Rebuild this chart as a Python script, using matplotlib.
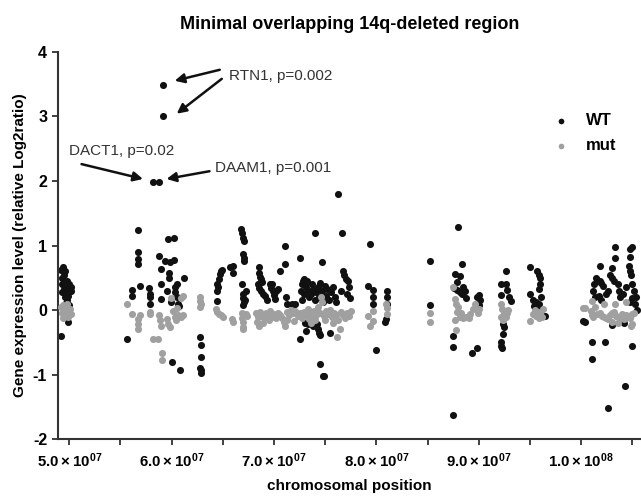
import matplotlib
matplotlib.use("Agg")
import matplotlib.pyplot as plt
from matplotlib.ticker import FuncFormatter, MultipleLocator
import numpy as np

plt.rcParams['font.family'] = ['Liberation Sans', 'DejaVu Sans']
plt.rcParams['mathtext.fontset'] = 'custom'
plt.rcParams['mathtext.rm'] = 'Liberation Sans'
plt.rcParams['mathtext.bf'] = 'Liberation Sans:bold'
plt.rcParams['mathtext.default'] = 'bf'
plt.rcParams['axes.unicode_minus'] = False

# chromosomal position in Mb, relative Log2ratio
wt_pos = [
    # ~49-50 Mb
    49.2, 49.25, 49.3, 49.3, 49.4, 49.45, 49.5, 49.5, 49.55, 49.6, 49.65, 49.7,
    49.75, 49.8, 49.85, 49.9, 50.0, 50.05, 50.15, 50.2, 49.16, 49.84, 49.6, 49.95,
    # ~55-61 Mb
    55.6, 56.1, 56.1, 56.7, 56.7, 56.72, 56.7, 56.9, 57.8, 57.85, 57.9, 57.9,
    58.14, 58.73, 59.12, 59.12, 58.8, 59.0, 59.0, 58.95, 59.35, 59.6, 59.7, 59.72,
    59.8, 60.25, 60.2, 60.5, 60.3, 60.35, 61.2, 60.65, 60.7, 60.0, 60.8, 60.55,
    59.5, 59.9,
    # ~63 Mb
    62.8, 62.85, 62.85, 62.8, 62.85, 62.9,
    # ~64-67 Mb
    64.4, 64.4, 64.45, 64.5, 64.6, 64.7, 64.8, 64.95, 65.7, 66.0, 66.0, 66.8,
    66.85, 67.0, 67.1, 67.0, 67.05, 67.1, 66.9, 66.95, 67.0, 67.1, 67.0, 67.3, 67.2,
    # ~68-77 Mb
    68.4, 68.5, 68.55, 68.6, 68.7, 68.8, 68.5, 68.7, 68.9, 69.1, 69.3, 69.6,
    69.7, 69.8, 69.9, 70.0, 70.1, 70.2, 70.4, 70.6, 71.1, 71.1, 71.2, 71.3,
    71.8, 72.1, 72.5, 72.5, 72.6, 72.7, 72.8, 72.9, 73.0, 73.1, 73.2, 73.3,
    73.4, 72.7, 72.9, 73.1, 73.0, 73.3, 73.6, 73.7, 73.8, 74.0, 74.0, 74.1,
    74.3, 74.4, 74.5, 74.65, 74.7, 74.8, 75.0, 75.1, 75.2, 75.4, 75.6, 75.8,
    76.0, 76.1, 76.3, 76.6, 76.7, 76.8, 77.0, 77.2, 77.3, 77.1, 77.4, 76.5,
    74.3, 74.4, 74.5, 75.5, 74.45, 74.75, 74.9, 74.2, 73.8,
    # ~79-81 Mb
    79.2, 79.4, 79.7, 79.7, 79.7, 80.0, 81.0, 81.0, 81.0, 80.9, 80.85,
    # ~85 Mb
    85.2, 85.2,
    # ~87-90 Mb
    88.0, 88.4, 87.7, 88.2, 87.9, 87.6, 87.9, 88.2, 88.5, 88.4, 88.7, 89.8,
    90.0, 90.1, 90.0, 87.5, 87.5, 87.5, 89.3, 89.8, 88.8,
    # ~92-93 Mb
    92.2, 92.7, 92.8, 93.0, 92.2, 92.7, 92.4, 92.45, 92.4, 92.2, 92.2, 92.25, 93.2,
    # ~95-96 Mb
    95.0, 95.7, 95.9, 96.0, 96.0, 95.9, 95.0, 95.3, 95.6, 95.9, 95.7, 95.4, 96.5, 96.1,
    # ~100-105 Mb
    100.2, 100.4, 101.1, 102.3, 101.1, 102.6, 104.3, 105.0, 103.0, 104.2, 101.3, 101.5,
    101.6, 101.8, 101.9, 102.1, 101.8, 101.2, 101.4, 101.7, 101.9, 102.8, 103.0, 103.2,
    103.0, 103.3, 103.3, 103.6, 103.7, 103.8, 104.7, 104.8, 105.0, 104.8, 104.75, 104.9,
    105.0, 105.2, 105.0, 104.8, 105.3, 102.4, 102.6, 104.4, 104.1, 105.4, 105.5,
]
wt_val = [
    0.62, 0.5, 0.4, 0.28, 0.66, 0.55, 0.45, 0.33, 0.2, 0.6, 0.38, 0.27,
    0.15, 0.45, 0.3, 0.22, 0.4, 0.3, 0.36, 0.3, -0.40, -0.19, 0.1, 0.08,
    -0.45, 0.31, 0.22, 1.24, 0.9, 0.79, 0.71, 0.37, 0.34, 0.25, 0.2, 0.09,
    1.99, 1.99, 3.49, 3.0, 0.83, 0.63, 0.4, 0.17, 0.76, 1.1, 0.58, 0.5,
    0.74, 1.12, 0.78, 0.4, 0.28, 0.35, 0.5, 0.1, 0.06, -0.81, -0.93, 0.2,
    0.3, 0.12,
    -0.41, -0.54, -0.73, -0.89, -0.92, -0.97,
    0.14, 0.3, 0.4, 0.35, 0.48, 0.56, 0.61, 0.62, 0.66, 0.58, 0.69, 1.25,
    1.2, 1.12, 1.07, 0.87, 0.81, 0.76, 0.4, 0.25, 0.18, 0.12, 0.08, 0.3, 0.15,
    0.4, 0.66, 0.58, 0.52, 0.48, 0.43, 0.34, 0.29, 0.25, 0.22, 0.15, 0.4,
    0.34, 0.4, 0.29, 0.24, 0.17, 0.3, 0.33, 0.61, 0.72, 1.0, 0.2, 0.09,
    0.09, 0.09, 0.8, -0.45, 0.3, 0.4, 0.45, 0.48, 0.42, 0.35, 0.45, 0.3,
    0.2, 0.15, 0.25, -0.32, -0.2, -0.22, 0.25, 0.4, 0.32, 0.15, 1.2, 0.28,
    0.35, 0.2, 0.42, 0.75, 0.3, 0.12, 0.38, 0.22, 0.32, 0.15, 0.28, 0.35,
    0.2, 0.12, 1.8, 1.19, 0.6, 0.55, 0.48, 0.45, 0.35, 0.25, 0.18, 0.3,
    -0.3, -0.35, -0.38, -0.36, -0.83, -1.02, -1.02, -0.22, -0.25,
    0.38, 1.03, 0.31, 0.2, 0.09, -0.62, 0.3, 0.2, 0.09, -0.14, -0.19,
    0.76, 0.08,
    1.28, 0.71, 0.56, 0.53, 0.43, 0.34, 0.31, 0.28, 0.36, 0.25, 0.3, 0.2,
    0.23, 0.15, 0.08, -0.4, -0.57, -1.63, -0.66, -0.59, 0.18,
    0.4, 0.4, 0.31, 0.2, 0.23, 0.6, -0.21, -0.26, -0.37, -0.5, -0.55, -0.58, 0.14,
    0.67, 0.6, 0.55, 0.5, 0.4, 0.33, 0.25, 0.15, 0.12, 0.1, 0.05, 0.07, -0.09, 0.2,
    -0.17, -0.18, -0.5, -0.5, -0.76, -1.52, -1.17, -0.56, -0.23, -0.2, 0.4, 0.5,
    0.47, 0.45, 0.42, 0.38, 0.69, 0.3, 0.2, 0.22, 0.15, 0.55, 0.5, 0.45,
    0.65, 0.8, 0.97, 0.4, 0.3, 0.2, 0.69, 0.95, 0.97, 0.82, 0.6, 0.55,
    0.4, 0.3, 0.18, 0.12, 0.1, 0.25, 0.3, 0.35, 0.25, 0.2, 0.0,
]

mut_pos = [
    49.2, 49.3, 49.4, 49.5, 49.6, 49.7, 49.8, 49.9, 50.0, 50.1, 50.2, 49.35, 49.75,
    55.6, 56.1, 56.7, 56.7, 56.7, 56.9, 57.85, 57.9, 58.2, 58.7, 59.1, 59.1,
    58.8, 58.9, 59.0, 59.5, 59.6, 59.8, 59.9, 60.1, 60.3, 60.5, 60.6, 60.9,
    61.1, 60.9, 61.1, 60.4,
    62.8, 62.8, 62.85, 62.8,
    64.3, 64.4, 64.6, 64.8, 65.0, 65.9, 66.0, 66.9, 66.9, 66.95, 67.0, 67.0, 67.3, 67.4,
    68.2, 68.4, 68.6, 68.8, 69.0, 69.2, 69.4, 69.6, 69.8, 70.0, 70.2, 70.4,
    70.6, 70.8, 71.0, 71.1, 71.3, 71.5, 71.7, 71.9, 72.1, 72.3, 72.5, 72.7,
    72.9, 73.1, 73.3, 73.5, 73.7, 73.9, 74.1, 74.3, 74.5, 74.6, 74.7, 74.9,
    75.1, 75.3, 75.5, 75.7, 75.9, 76.1, 76.3, 76.5, 76.7, 76.9, 77.1, 77.3,
    77.5, 76.4, 76.2, 74.0, 73.6, 75.8, 69.5, 68.9, 68.5, 68.3, 71.3, 72.0,
    73.4, 75.0,
    79.2, 79.4, 79.7, 79.7, 81.0, 81.0, 80.9,
    85.2, 85.2,
    87.5, 87.7, 87.8, 87.9, 88.2, 88.5, 88.8, 89.1, 89.4, 89.6, 87.7, 87.8,
    89.9, 90.0, 88.3, 88.0, 89.0,
    92.2, 92.3, 92.5, 92.6, 92.8, 92.9, 92.2, 92.4, 92.7,
    95.0, 95.3, 95.5, 95.6, 95.9, 96.2, 96.3, 95.8, 96.0,
    100.2, 100.4, 101.1, 101.0, 101.1, 101.2, 101.6, 101.8, 102.0, 102.2, 102.4, 102.6,
    102.8, 103.0, 103.2, 103.4, 103.6, 103.8, 104.0, 104.2, 104.4, 104.6, 104.8, 105.0,
    105.2, 105.0, 104.9, 103.0, 103.6, 101.4, 102.2, 104.4, 103.3,
]
mut_val = [
    0.05, -0.05, 0.08, -0.03, 0.0, -0.08, 0.03, -0.1, -0.02, 0.02, -0.06, -0.12, 0.1,
    0.09, -0.06, -0.14, -0.22, -0.29, -0.08, -0.06, -0.03, -0.45, -0.45, -0.67, -0.77,
    -0.08, -0.15, -0.25, -0.14, -0.22, -0.26, 0.18, -0.01, -0.1, 0.03, -0.07, -0.1,
    -0.07, 0.18, 0.22, -0.15,
    0.2, 0.14, 0.09, 0.05,
    0.02, -0.03, -0.06, -0.08, -0.11, -0.14, -0.19, -0.05, -0.12, -0.19, -0.26, -0.29, -0.06, -0.09,
    -0.05, -0.1, -0.03, -0.08, -0.12, -0.04, -0.09, -0.02, -0.1, -0.06, -0.13, -0.04,
    -0.08, -0.12, -0.18, -0.25, -0.03, -0.08, 0.0, -0.05, -0.02, -0.09, -0.05, -0.12,
    -0.03, -0.08, 0.02, -0.06, -0.1, -0.02, -0.07, 0.05, -0.04, 0.2, 0.12, -0.09,
    -0.02, -0.06, 0.0, -0.1, -0.04, -0.08, -0.15, -0.03, -0.07, -0.12, -0.05, -0.09,
    -0.02, -0.3, -0.41, -0.15, -0.2, -0.2, -0.16, -0.2, -0.25, -0.18, -0.15, -0.17,
    -0.14, -0.15,
    -0.09, -0.24, -0.17, -0.01, 0.04, -0.06, 0.1,
    -0.04, -0.18,
    0.35, 0.17, 0.09, -0.03, -0.1, -0.12, -0.1, -0.06, 0.02, 0.1, -0.16, -0.31,
    -0.05, 0.02, -0.05, 0.05, -0.12,
    0.09, 0.02, -0.04, -0.07, -0.04, 0.0, -0.1, -0.15, -0.1,
    -0.17, -0.06, 0.0, -0.09, -0.13, -0.11, 0.02, -0.03, -0.05,
    0.03, 0.03, 0.14, -0.02, -0.07, -0.1, -0.06, -0.04, -0.09, -0.1, -0.12, -0.14,
    -0.07, -0.05, -0.03, -0.09, -0.1, -0.12, -0.06, -0.14, -0.08, -0.1, -0.13, -0.06,
    -0.04, -0.22, -0.25, -0.18, -0.2, 0.05, 0.1, 0.12, 0.1,
]

# gene labels: text, text anchor (Mb, y), arrows as (tail, head) in (Mb, y)
labels = ["RTN1, p=0.002", "DACT1, p=0.02", "DAAM1, p=0.001"]
label_xy = [(65.6, 3.62), (50.0, 2.47), (64.2, 2.20)]
arrows = [
    ((64.7, 3.72), (60.3, 3.55)),
    ((64.9, 3.58), (60.5, 3.04)),
    ((51.2, 2.26), (57.2, 2.03)),
    ((63.7, 2.15), (59.5, 2.03)),
]

MB = 1e6
fig = plt.figure(figsize=(6.41, 4.97), dpi=100)
ax = fig.add_axes([58.3 / 641, 1 - 439.3 / 497, 1 - 58.3 / 641, 387.6 / 497])

ax.scatter(np.array(wt_pos) * MB, wt_val, s=26, color='#111111', lw=0, label='WT', zorder=2)
ax.scatter(np.array(mut_pos) * MB, mut_val, s=26, color='#a0a0a0', lw=0, label='mut', zorder=3)

for (tx, ty), (hx, hy) in arrows:
    ax.annotate("", xy=(hx * MB, hy), xytext=(tx * MB, ty),
                arrowprops=dict(arrowstyle='-|>', color='#111111', lw=1.8,
                                mutation_scale=14, shrinkA=0, shrinkB=0))
for txt, (lx, ly) in zip(labels, label_xy):
    ax.text(lx * MB, ly, txt, fontsize=11, color='#333333', ha='left', va='center')

ax.set_xlim(48.93 * MB, 105.85 * MB)
ax.set_ylim(-2, 4)

ax.xaxis.set_major_locator(MultipleLocator(1e7))
ax.xaxis.set_minor_locator(MultipleLocator(5e6))
ax.yaxis.set_major_locator(MultipleLocator(1))


def sci(v, pos):
    exp = int(np.floor(np.log10(v)))
    return r"$%.1f\times10^{%02d}$" % (v / 10 ** exp, exp)


ax.xaxis.set_major_formatter(FuncFormatter(sci))

for s in ['top', 'right']:
    ax.spines[s].set_visible(False)
for s in ['left', 'bottom']:
    ax.spines[s].set_color('#333333')
    ax.spines[s].set_linewidth(1.5)

ax.tick_params(axis='both', which='both', color='#333333', width=1.3, length=4)
ax.tick_params(axis='x', labelsize=10.8, pad=5)
ax.tick_params(axis='y', labelsize=11.5, pad=4)
for t in ax.get_yticklabels():
    t.set_fontweight('bold')

ax.set_title("Minimal overlapping 14q-deleted region", fontsize=13, fontweight='bold', pad=16)
ax.set_xlabel("chromosomal position", fontsize=11, fontweight='bold', labelpad=6)
ax.set_ylabel("Gene expression level (relative Log2ratio)", fontsize=11, fontweight='bold', labelpad=4)

ax.legend(loc='upper left', bbox_to_anchor=(0.808, 0.88), frameon=False,
          prop={'weight': 'bold', 'size': 12},
          handletextpad=0.5, labelspacing=0.6, markerscale=0.8)

fig.savefig("out.png", dpi=100)
